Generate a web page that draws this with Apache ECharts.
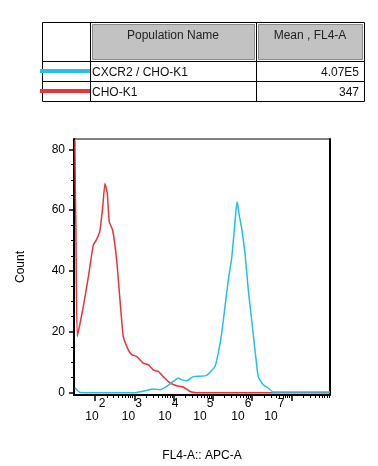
<!DOCTYPE html>
<html>
<head>
<meta charset="utf-8">
<script src="https://cdn.jsdelivr.net/npm/echarts@6/dist/echarts.min.js"></script>
<style>
  html, body { margin: 0; padding: 0; background: #fff; }
  #main { width: 378px; height: 466px; }
</style>
</head>
<body>
<div id="main"></div>
<script>
// table
const tableHeaders = ['Population Name', 'Mean , FL4-A'];
const populations = ['CXCR2 / CHO-K1', 'CHO-K1'];
const meanValues = ['4.07E5', '347'];
const seriesColors = ['#1fc1e6', '#ec3138'];

// histogram, x = log10(FL4-A), y = count
const cxcr2Log = [1.49, 1.618, 2.807, 3.061, 3.316, 3.483, 3.654, 3.824, 3.992, 4.12, 4.206, 4.333,
  4.501, 4.672, 4.842, 4.926, 5.053, 5.137, 5.224, 5.308, 5.392, 5.478, 5.537, 5.588, 5.621, 5.664,
  5.733, 5.817, 5.901, 5.987, 6.071, 6.155, 6.282, 6.41, 6.537, 7.98];
const cxcr2Count = [1.6, 0.1, 0, 0.1, 0.75, 1.2, 1.0, 2.1, 3.7, 4.8, 4.3, 3.9,
  5.3, 5.4, 5.7, 6.7, 8.6, 13, 19.5, 28.3, 37, 44.2, 52.3, 60, 62.7, 58.9,
  54, 45.8, 33.8, 23.9, 14.1, 5.3, 2.6, 1.5, 0.2, 0.2];

const chok1Log = [1.49, 1.5, 1.515, 1.55, 1.702, 1.83, 1.957, 2.043, 2.127, 2.196, 2.254, 2.313,
  2.364, 2.45, 2.552, 2.636, 2.72, 2.847, 2.934, 3.061, 3.229, 3.356, 3.483, 3.611, 3.738, 3.908,
  4.079, 4.247, 4.417, 4.588, 7.98];
const chok1Count = [83, 66, 54, 18.5, 28.3, 38, 48.5, 50.4, 53.4, 61, 68.8, 65.5,
  56.2, 53.4, 43.6, 30.5, 18.5, 14.1, 12.5, 11.9, 9.7, 9.2, 7.5, 7.0, 5.3, 3.2,
  2.3, 1.9, 0.4, 0, 0];

// axes
const decadeTicks = [2, 3, 4, 5, 6, 7];
// the printed "10^n" labels sit a little left of their ticks in the original
const xLabelPos = [1.924, 2.852, 3.781, 4.672, 5.639, 6.478];
const xLabelExp = ['2', '3', '4', '5', '6', '7'];
const yTicks = [0, 20, 40, 60, 80];
const yMinorTicks = [5, 10, 15, 25, 30, 35, 45, 50, 55, 65, 70, 75];

const xMinorTicks = [];
decadeTicks.forEach(d => {
  for (let k = 2; k <= 9; k++) xMinorTicks.push(d + Math.log10(k));
});

const font = '"Liberation Sans", Arial, sans-serif';
const zip = (xs, ys) => xs.map((x, i) => [x, ys[i]]);
const expFor = v => {
  let best = 0;
  xLabelPos.forEach((p, i) => { if (Math.abs(p - v) < Math.abs(xLabelPos[best] - v)) best = i; });
  return xLabelExp[best];
};

// table drawn with graphic elements
const tL = 42, tR = 364, colX = [42, 90, 256, 364], rowY = [22, 61, 81, 101];
const graphics = [];
graphics.push({ type: 'rect', shape: { x: tL + 0.5, y: rowY[0] + 0.5, width: tR - tL, height: rowY[3] - rowY[0] },
  style: { fill: '#fff', stroke: '#000', lineWidth: 1 } });
for (let c = 1; c < 3; c++) {
  graphics.push({ type: 'rect', shape: { x: colX[c] + 2.5, y: rowY[0] + 2.5, width: colX[c + 1] - colX[c] - 4, height: rowY[1] - rowY[0] - 4 },
    style: { fill: '#c2c2c2', stroke: '#8a8a8a', lineWidth: 1 } });
}
[rowY[1], rowY[2]].forEach(y => graphics.push({ type: 'line', shape: { x1: tL, y1: y + 0.5, x2: tR, y2: y + 0.5 }, style: { stroke: '#000', lineWidth: 1 } }));
[colX[1], colX[2]].forEach(x => graphics.push({ type: 'line', shape: { x1: x + 0.5, y1: rowY[0], x2: x + 0.5, y2: rowY[3] }, style: { stroke: '#000', lineWidth: 1 } }));
tableHeaders.forEach((h, i) => {
  graphics.push({ type: 'text', style: { text: h, x: (colX[i + 1] + colX[i + 2]) / 2, y: 36, fill: '#222', font: '12px ' + font,
    textAlign: 'center', textVerticalAlign: 'middle', align: 'center', verticalAlign: 'middle' } });
});
populations.forEach((p, i) => {
  const cy = (rowY[i + 1] + rowY[i + 2]) / 2;
  graphics.push({ type: 'line', shape: { x1: 40, y1: cy, x2: colX[1], y2: cy }, style: { stroke: seriesColors[i], lineWidth: 4 } });
  graphics.push({ type: 'text', style: { text: p, x: colX[1] + 2, y: cy + 2, fill: '#111', font: '12px ' + font,
    textAlign: 'left', textVerticalAlign: 'middle', align: 'left', verticalAlign: 'middle' } });
  graphics.push({ type: 'text', style: { text: meanValues[i], x: tR - 5, y: cy + 2, fill: '#111', font: '12px ' + font,
    textAlign: 'right', textVerticalAlign: 'middle', align: 'right', verticalAlign: 'middle' } });
});

const xMin = 1.466, xMax = 7.98, yMin = -0.75, yMax = 83.4;

const chart = echarts.init(document.getElementById('main'));
const option = {
  animation: false,
  backgroundColor: '#fff',
  grid: { left: 74, right: 48, top: 139, bottom: 71, containLabel: false, outerBoundsMode: 'none',
    show: true, borderColor: '#000', borderWidth: 1, backgroundColor: 'transparent' },
  xAxis: [
    {
      // major ticks and the "10" part of each label
      type: 'value', min: xMin, max: xMax, position: 'bottom',
      name: 'FL4-A:: APC-A', nameLocation: 'middle', nameGap: 55,
      nameTextStyle: { color: '#000', fontSize: 12, fontFamily: font },
      axisLine: { onZero: false, lineStyle: { color: '#000', width: 2 } },
      axisTick: { customValues: decadeTicks, length: 6, lineStyle: { color: '#000', width: 1.5 } },
      axisLabel: {
        customValues: xLabelPos, margin: 16, formatter: () => '10',
        fontSize: 12, fontFamily: font, color: '#000', hideOverlap: false
      },
      splitLine: { show: false }
    },
    {
      // minor ticks and the exponent of each label
      type: 'value', min: xMin, max: xMax, position: 'bottom',
      axisLine: { show: false, onZero: false },
      axisTick: { customValues: xMinorTicks, length: 3, lineStyle: { color: '#000', width: 1 } },
      axisLabel: {
        customValues: xLabelPos, margin: 3, formatter: v => expFor(v),
        padding: [0, 0, 0, 20], fontSize: 12, fontFamily: font, color: '#000', hideOverlap: false
      },
      splitLine: { show: false }
    }
  ],
  yAxis: [
    {
      type: 'value', min: yMin, max: yMax, position: 'left',
      name: 'Count', nameLocation: 'middle', nameGap: 47, nameRotate: 90,
      nameTextStyle: { color: '#000', fontSize: 12, fontFamily: font },
      axisLine: { show: true, onZero: false, lineStyle: { color: '#000', width: 2 } },
      axisTick: { show: true, customValues: yTicks, length: 5, lineStyle: { color: '#000', width: 1.5 } },
      axisLabel: { customValues: yTicks, margin: 9, fontSize: 12, fontFamily: font, color: '#000' },
      splitLine: { show: false }
    },
    {
      type: 'value', min: yMin, max: yMax, position: 'left',
      axisLine: { show: false, onZero: false },
      axisTick: { show: true, customValues: yMinorTicks, length: 3, lineStyle: { color: '#000', width: 1 } },
      axisLabel: { show: false },
      splitLine: { show: false }
    },
    {
      type: 'value', min: yMin, max: yMax, position: 'right',
      axisLine: { show: true, onZero: false, lineStyle: { color: '#000', width: 2 } },
      axisTick: { show: false },
      axisLabel: { show: false },
      splitLine: { show: false }
    }
  ],
  series: [
    {
      name: 'CHO-K1', type: 'line', xAxisIndex: 0, yAxisIndex: 0,
      data: zip(chok1Log, chok1Count), showSymbol: false, smooth: 0.15, clip: true,
      lineStyle: { color: seriesColors[1], width: 1.5 }
    },
    {
      name: 'CXCR2 / CHO-K1', type: 'line', xAxisIndex: 0, yAxisIndex: 0,
      data: zip(cxcr2Log, cxcr2Count), showSymbol: false, smooth: 0.15, clip: true,
      lineStyle: { color: seriesColors[0], width: 1.5 }
    }
  ],
  graphic: { elements: graphics }
};
chart.setOption(option);
</script>
</body>
</html>
